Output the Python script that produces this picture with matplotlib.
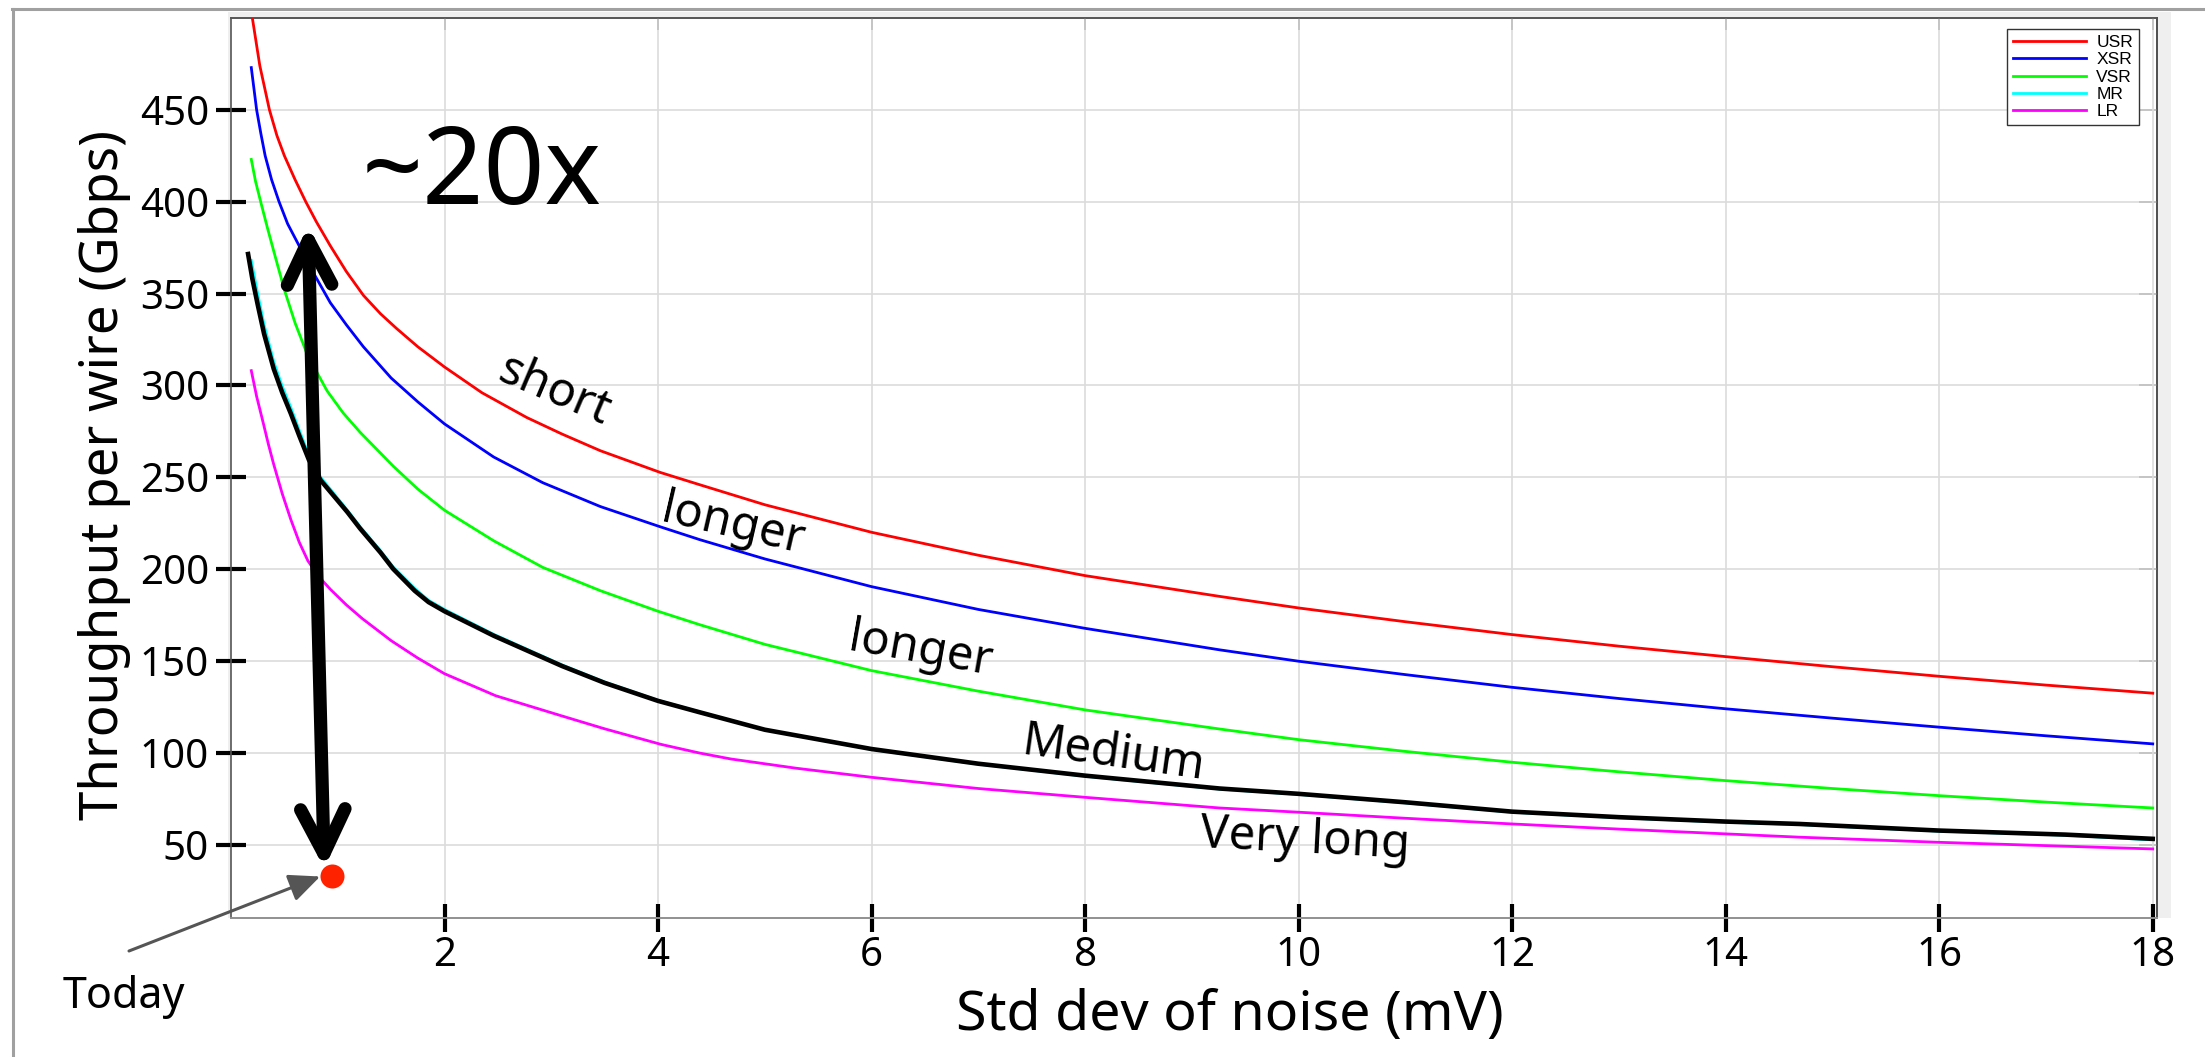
"""
plot.py - throughput per wire vs. std dev of noise for five reach classes.
Writes out.png (2205x1057).
"""

import matplotlib
matplotlib.use("Agg")
import matplotlib.pyplot as plt
from matplotlib.lines import Line2D
from matplotlib.patches import Rectangle

# std dev of noise (mV) -> throughput per wire (Gbps)
usr_x = [0.20, 0.27, 0.36, 0.43, 0.50, 0.60, 0.70, 0.80, 0.93, 1.08, 1.24, 1.40, 1.55, 1.75,
         2.0, 2.35, 2.77, 3.1, 3.46, 4.02, 4.39, 5.0, 6.0, 7.0, 8.0, 9.26, 10.0, 11.0, 12.0,
         13.0, 14.0, 15.0, 16.0, 17.0, 18.0]
usr_y = [500, 474, 450, 436, 425, 412, 400, 389, 376, 362, 349, 339, 331, 321,
         310, 296, 282.5, 273.5, 264.4, 252.6, 245.9, 235, 220, 207.5, 196.4, 185.1, 178.8, 171.3, 164.3,
         158, 152.3, 146.8, 141.6, 136.8, 132.4]

xsr_x = [0.19, 0.24, 0.28, 0.32, 0.38, 0.45, 0.53, 0.62, 0.75, 0.93, 1.08, 1.24, 1.5, 1.75,
         2.0, 2.46, 2.92, 3.46, 4.02, 4.39, 5.0, 6.0, 7.0, 8.0, 9.26, 10.0, 11.0, 12.0,
         13.0, 14.0, 15.0, 16.0, 17.0, 18.0]
xsr_y = [473, 450, 437, 425, 412, 400, 388, 378, 363.5, 345, 333, 321, 304, 291,
         279, 261, 247, 234, 223, 216, 205.5, 190.4, 178, 167.7, 156, 149.8, 142.5, 135.6,
         129.5, 123.9, 118.8, 113.9, 109.2, 104.8]

vsr_x = [0.19, 0.23, 0.28, 0.34, 0.41, 0.5, 0.6, 0.72, 0.9, 1.05, 1.21, 1.52, 1.75, 2.0,
         2.46, 2.92, 3.46, 4.0, 4.39, 5.0, 6.0, 7.0, 8.0, 9.26, 10.0, 11.0, 12.0, 13.0,
         14.0, 15.0, 16.0, 17.0, 18.0]
vsr_y = [423, 411, 399.5, 386, 371, 352, 334, 316, 297, 285, 274.4, 256, 243.5, 232,
         215.4, 200.9, 188.2, 177, 169.7, 159, 144.7, 133.5, 123.3, 112.9, 107.1, 100.7, 94.8, 89.6,
         84.8, 80.5, 76.6, 73.1, 69.9]

mr_x = [0.19, 0.25, 0.31, 0.40, 0.48, 0.56, 0.64, 0.73, 0.84, 1.09, 1.21, 1.40, 1.52, 1.72,
        1.85, 2.0, 2.46, 3.1, 3.5, 4.0, 4.39, 5.0, 6.0, 7.0, 8.0, 9.26, 10.0, 11.0, 12.0,
        13.0, 14.0, 14.69, 16.0, 17.18, 18.0]
mr_y = [368, 350, 333, 313, 299.5, 288, 275.5, 262, 250, 232, 223, 210, 201, 189.5,
        183, 178, 164.5, 147.8, 138.5, 128.5, 122.2, 112.5, 101.8, 93.8, 87.2, 80.2, 77.3, 72.7, 67.6,
        64.6, 62.2, 60.9, 57.3, 55.1, 52.5]

# black overlay drawn on top of MR
mr_black_x = [0.16, 0.20, 0.25, 0.31, 0.40, 0.48, 0.56, 0.64, 0.73, 0.84, 1.09, 1.21, 1.40, 1.52,
              1.72, 1.85, 2.0, 2.46, 3.1, 3.5, 4.0, 4.39, 5.0, 6.0, 7.0, 8.0, 9.26, 10.0, 11.0,
              12.0, 13.0, 14.0, 14.69, 16.0, 17.18, 18.0]
mr_black_y = [371.5, 358, 344, 328, 309, 296, 284.7, 272.5, 259.4, 248.3, 231, 222, 209, 200,
              188.2, 182, 177, 163.7, 147.2, 138, 128.2, 122, 112.5, 102, 94, 87.5, 80.5, 77.6, 73,
              67.9, 64.9, 62.5, 61.2, 57.6, 55.4, 53.1]

lr_x = [0.19, 0.24, 0.30, 0.35, 0.40, 0.48, 0.56, 0.64, 0.72, 0.82, 0.93, 1.08, 1.23, 1.50,
        1.75, 2.0, 2.48, 3.1, 3.5, 4.03, 4.39, 4.68, 5.3, 6.0, 7.0, 8.0, 9.26, 10.0, 11.0,
        12.0, 13.0, 14.0, 14.69, 16.0, 17.0, 18.0]
lr_y = [308, 294, 280, 268, 257, 241, 227, 214.5, 204.5, 196, 189, 180.5, 173, 161,
        151.5, 143, 131, 120, 113, 104.5, 99.8, 96.6, 91.5, 86.6, 80.5, 75.7, 69.9, 67.6, 64.3,
        61.2, 58.4, 55.8, 54, 51.2, 49.4, 47.6]

series_names = ["USR", "XSR", "VSR", "MR", "LR"]
series_colors = ["#ff0000", "#0000ff", "#00ff00", "#00ffff", "#ff00ff"]

today_x = [0.95]
today_y = [32.6]

x_ticks = [2, 4, 6, 8, 10, 12, 14, 16, 18]
y_ticks = [50, 100, 150, 200, 250, 300, 350, 400, 450]

# curve labels: text, x, y, rotation
curve_labels = [
    ("short", 3.03, 297, -23),
    ("longer", 4.70, 223.6, -13),
    ("longer", 6.46, 155.6, -10),
    ("Medium", 8.26, 99.3, -8),
    ("Very long", 10.06, 52.2, -3),
]


def main():
    plt.rcParams["font.family"] = ["Noto Sans", "DejaVu Sans"]
    W, H = 2205, 1057
    fig = plt.figure(figsize=(W / 100, H / 100), dpi=100)

    # slide frame: grey rule along top and left edge
    fig.add_artist(Line2D([12 / W, 1], [1 - 8.5 / H] * 2, color="#a0a0a0", lw=2.2))
    fig.add_artist(Line2D([13 / W] * 2, [0, 1 - 8.5 / H], color="#a0a0a0", lw=2.2))
    # light grey figure background of the exported plot
    fig.add_artist(Rectangle((228 / W, 1 - 918 / H), (2171 - 228) / W, (918 - 12) / H,
                             facecolor="#efefef", edgecolor="none", zorder=-1))

    ax = fig.add_axes([231 / W, 1 - 918 / H, (2157 - 231) / W, (918 - 18) / H])
    ax.set_facecolor("white")

    data = [(usr_x, usr_y), (xsr_x, xsr_y), (vsr_x, vsr_y), (mr_x, mr_y), (lr_x, lr_y)]
    for (xs, ys), name, col in zip(data, series_names, series_colors):
        ax.plot(xs, ys, color=col, lw=2.0, label=name, zorder=3,
                solid_joinstyle="round")
    ax.plot(mr_black_x, mr_black_y, color="black", lw=3.3, zorder=4, label="_nolegend_",
            solid_joinstyle="round")

    ax.set_xlim(0, 18.04)
    ax.set_ylim(10, 500)
    ax.set_xticks(x_ticks)
    ax.set_yticks(y_ticks)
    ax.grid(True, color="#dcdcdc", lw=1.2)
    ax.set_axisbelow(True)

    ax.tick_params(axis="y", direction="inout", length=21.6, width=3, color="black",
                   pad=5, labelsize=29)
    ax.tick_params(axis="x", direction="inout", length=20, width=3, color="black",
                   pad=3, labelsize=29)
    for side in ["left", "top", "right"]:
        ax.spines[side].set_color("#555555")
        ax.spines[side].set_linewidth(1.2)
    ax.spines["bottom"].set_color("#909090")
    ax.spines["bottom"].set_linewidth(1.4)

    # thin inward ticks on top and right
    sec_x = ax.secondary_xaxis("top")
    sec_x.set_xticks(x_ticks)
    sec_x.tick_params(axis="x", direction="in", length=8.6, width=1.3, color="#444444",
                      labeltop=False, labelbottom=False)
    sec_x.spines["top"].set_color("#555555")
    sec_x.spines["top"].set_linewidth(1.2)
    sec_y = ax.secondary_yaxis("right")
    sec_y.set_yticks(y_ticks)
    sec_y.tick_params(axis="y", direction="in", length=13, width=1.3, color="#444444",
                      labelright=False, labelleft=False)
    sec_y.spines["right"].set_color("#444444")
    sec_y.spines["right"].set_linewidth(1.4)

    ax.set_xlabel("Std dev of noise (mV)", fontsize=40)
    ax.xaxis.set_label_coords(0.5187, -0.078)
    ax.set_ylabel("Throughput per wire (Gbps)", fontsize=38)
    ax.yaxis.set_label_coords(-0.052, 0.492)

    leg = ax.legend(loc="upper right", bbox_to_anchor=(0.9907, 0.9878), borderaxespad=0,
                    prop={"family": "Liberation Sans", "size": 12.5},
                    handlelength=4.2, handletextpad=0.6, labelspacing=0.12,
                    borderpad=0.35, fancybox=False, framealpha=1)
    leg.get_frame().set_edgecolor("#333333")
    leg.get_frame().set_linewidth(1.0)

    for txt, tx, ty, rot in curve_labels:
        ax.text(tx, ty, txt, fontsize=34, rotation=rot, rotation_mode="anchor",
                ha="center", va="center", zorder=5)

    ax.text(2.35, 398.8, "~20x", fontsize=77, ha="center", va="baseline", zorder=5)

    # ~20x double arrow from today up to the short-reach curve
    ax.annotate("", xy=(0.722, 387), xytext=(0.874, 37),
                arrowprops=dict(arrowstyle="<->,head_length=3.2,head_width=1.6",
                                mutation_scale=10, lw=9.5, color="black",
                                shrinkA=0, shrinkB=0, capstyle="round",
                                joinstyle="round"), zorder=6)

    ax.plot(today_x, today_y, "o", color="#ff2200", ms=17.3, mec="none",
            zorder=7, clip_on=False)
    ax.annotate("", xy=(0.835, 32.6), xycoords="data",
                xytext=(129 / W, 1 - 951 / H), textcoords="figure fraction",
                arrowprops=dict(arrowstyle="-|>,head_length=1.9,head_width=0.85",
                                mutation_scale=10, color="#555555", lw=2.2,
                                shrinkA=0, shrinkB=0), annotation_clip=False)
    fig.text(63 / W, 1 - 1008 / H, "Today", fontsize=31, ha="left", va="baseline")

    fig.savefig("out.png", dpi=100)


if __name__ == "__main__":
    main()
